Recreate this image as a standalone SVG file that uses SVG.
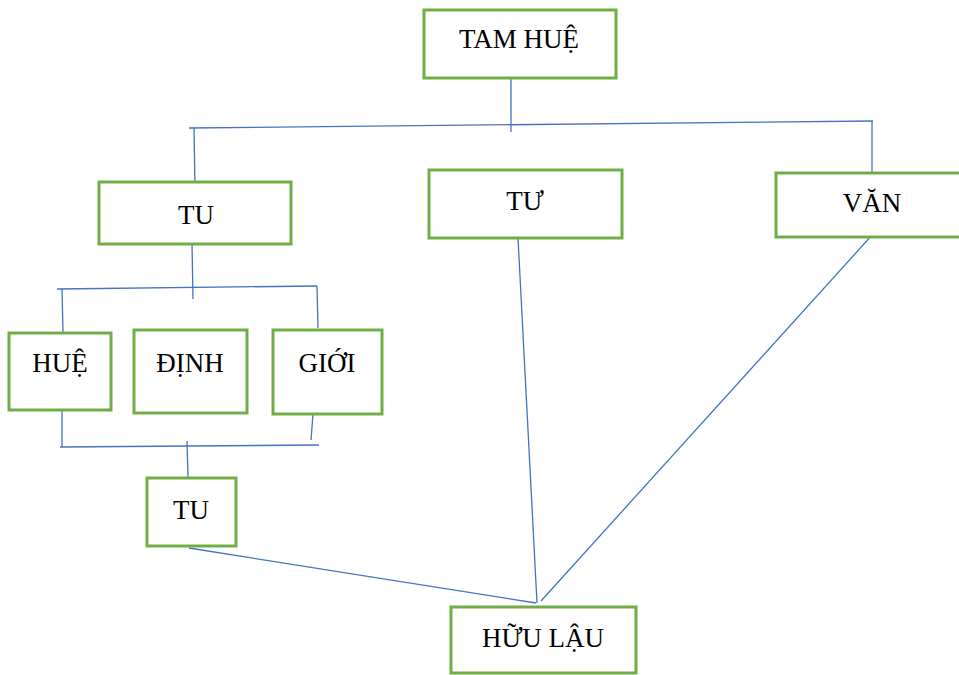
<svg xmlns="http://www.w3.org/2000/svg" width="959" height="675" viewBox="0 0 959 675">
<style>
.box{fill:#fff;stroke:#70AD47;stroke-width:3}
.lbl{font-family:"Liberation Serif","Times New Roman",serif;font-size:27px;fill:#000;text-anchor:middle}
.c{stroke:#4472C4;stroke-width:1.3;fill:none}
</style>
<rect width="959" height="675" fill="#fff"/>
<g id="connectors">
<line class="c" x1="511" y1="78" x2="511" y2="132"/>
<line class="c" x1="189" y1="128" x2="873" y2="121"/>
<line class="c" x1="194" y1="128" x2="195" y2="189"/>
<line class="c" x1="872" y1="121" x2="872" y2="173"/>
<line class="c" x1="192" y1="244" x2="193" y2="299"/>
<line class="c" x1="57" y1="289" x2="317" y2="286"/>
<line class="c" x1="62" y1="289" x2="63" y2="333"/>
<line class="c" x1="317" y1="286" x2="318" y2="328"/>
<line class="c" x1="62" y1="410" x2="62" y2="447"/>
<line class="c" x1="313" y1="414" x2="311" y2="440"/>
<line class="c" x1="60" y1="447" x2="319" y2="445"/>
<line class="c" x1="187" y1="441" x2="188" y2="477"/>
<line class="c" x1="189" y1="548" x2="536" y2="603"/>
<line class="c" x1="518" y1="238" x2="537" y2="603"/>
<line class="c" x1="873" y1="234" x2="541" y2="601"/>
</g>
<g id="n-tamhue"><rect class="box" x="424" y="10" width="192" height="68"/><text class="lbl" x="519" y="48">TAM HUỆ</text></g>
<g id="n-tu1"><rect class="box" x="99" y="182" width="192" height="62"/><text class="lbl" x="196" y="224">TU</text></g>
<g id="n-tu2"><rect class="box" x="429" y="170" width="193" height="68"/><text class="lbl" x="525" y="210">TƯ</text></g>
<g id="n-van"><rect class="box" x="776" y="173" width="185" height="64"/><text class="lbl" x="872" y="212">VĂN</text></g>
<g id="n-hue"><rect class="box" x="9" y="333" width="102" height="77"/><text class="lbl" x="60" y="372">HUỆ</text></g>
<g id="n-dinh"><rect class="box" x="134" y="330" width="113" height="83"/><text class="lbl" x="190" y="372">ĐỊNH</text></g>
<g id="n-gioi"><rect class="box" x="273" y="330" width="109" height="84"/><text class="lbl" x="327" y="372">GIỚI</text></g>
<g id="n-tu3"><rect class="box" x="147" y="478" width="89" height="68"/><text class="lbl" x="191" y="519">TU</text></g>
<g id="n-huulau"><rect class="box" x="451" y="607" width="185" height="66"/><text class="lbl" x="543" y="647">HỮU LẬU</text></g>
</svg>
